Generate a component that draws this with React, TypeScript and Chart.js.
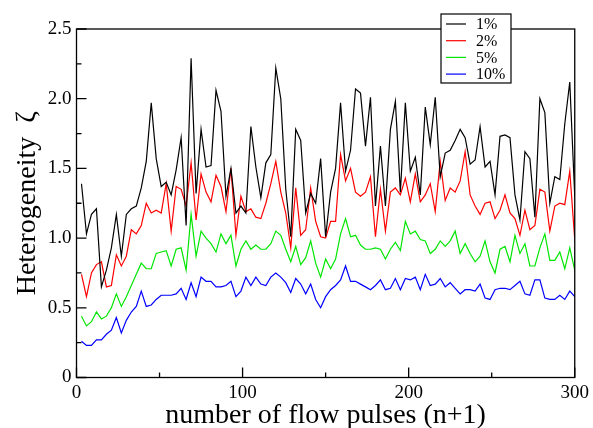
import React, { useEffect, useRef } from "react";
import { Chart, registerables } from "chart.js";

Chart.register(...registerables);

// Pulse count (n+1) at which heterogeneity was sampled: every 3rd pulse.
const PULSES: number[] = Array.from({ length: 100 }, (_, i) => 3 * (i + 1));

const SERIES_LABELS = ["1%", "2%", "5%", "10%"];
const SERIES_COLORS = ["#000000", "#ff0000", "#00e600", "#0000ff"];

const ZETA_1 = [
  1.39, 1.03, 1.17, 1.21, 0.65, 0.77, 0.93, 1.17, 0.87, 1.17,
  1.21, 1.23, 1.36, 1.55, 1.97, 1.57, 1.37, 1.40, 1.31, 1.49,
  1.72, 1.09, 2.29, 1.32, 1.78, 1.51, 1.52, 2.06, 1.91, 1.30,
  1.50, 1.18, 1.23, 1.18, 1.80, 1.51, 1.29, 1.54, 1.60, 2.22,
  2.00, 1.35, 1.01, 1.78, 1.70, 1.18, 1.32, 1.25, 1.57, 1.01,
  1.33, 1.50, 1.97, 1.48, 1.63, 2.07, 2.04, 1.66, 2.01, 1.23,
  1.66, 1.23, 1.78, 1.98, 1.33, 1.97, 1.48, 1.58, 1.31, 1.94,
  1.67, 2.01, 1.44, 1.61, 1.63, 1.70, 1.78, 1.72, 1.53, 1.56,
  1.80, 1.51, 1.55, 1.31, 1.73, 1.74, 1.72, 1.31, 1.13, 1.62,
  1.57, 1.15, 2.00, 1.90, 1.25, 1.44, 1.42, 1.82, 2.12, 1.30,
];

const ZETA_2 = [
  0.74, 0.58, 0.75, 0.81, 0.83, 0.65, 0.66, 0.88, 0.80, 0.87,
  1.06, 1.03, 1.09, 1.25, 1.18, 1.20, 1.18, 1.39, 1.05, 1.37,
  1.35, 1.23, 1.54, 1.13, 1.46, 1.33, 1.26, 1.45, 1.37, 1.19,
  1.50, 1.02, 1.30, 1.19, 1.21, 1.15, 1.14, 1.25, 1.39, 1.55,
  1.33, 1.18, 0.93, 1.36, 1.02, 1.06, 1.36, 1.12, 1.01, 1.00,
  1.12, 1.12, 1.60, 1.41, 1.50, 1.33, 1.30, 1.33, 1.44, 1.01,
  1.35, 1.05, 1.33, 1.36, 1.31, 1.43, 1.26, 1.46, 1.26, 1.31,
  1.39, 1.19, 1.55, 1.27, 1.36, 1.33, 1.41, 1.62, 1.31, 1.23,
  1.17, 1.25, 1.26, 1.14, 1.20, 1.31, 1.18, 1.14, 1.02, 1.20,
  1.06, 1.09, 1.35, 1.33, 1.05, 1.23, 1.25, 1.24, 1.48, 0.99,
];

const ZETA_5 = [
  0.44, 0.37, 0.40, 0.47, 0.42, 0.44, 0.50, 0.60, 0.51, 0.58,
  0.66, 0.74, 0.82, 0.78, 0.78, 0.89, 0.90, 0.91, 0.80, 0.92,
  0.93, 0.77, 1.17, 0.87, 1.05, 1.00, 0.96, 0.90, 1.03, 0.96,
  1.02, 0.80, 0.92, 0.98, 0.92, 0.95, 0.92, 0.92, 0.96, 1.05,
  1.02, 0.92, 0.83, 0.94, 0.81, 0.86, 0.98, 0.82, 0.72, 0.85,
  0.78, 0.85, 1.03, 1.14, 1.01, 1.02, 0.95, 0.92, 0.92, 0.93,
  0.92, 0.85, 0.92, 0.97, 0.91, 1.12, 1.03, 1.05, 0.99, 0.98,
  0.89, 0.92, 0.98, 0.94, 0.98, 1.05, 0.89, 0.96, 0.89, 0.83,
  0.87, 0.98, 0.83, 0.75, 0.92, 0.94, 0.83, 1.02, 0.89, 0.96,
  0.80, 0.80, 0.93, 1.03, 0.84, 0.84, 0.90, 0.78, 0.93, 0.77,
];

const ZETA_10 = [
  0.26, 0.23, 0.23, 0.27, 0.27, 0.31, 0.34, 0.43, 0.32, 0.41,
  0.47, 0.51, 0.62, 0.51, 0.52, 0.56, 0.59, 0.59, 0.59, 0.60,
  0.64, 0.56, 0.68, 0.58, 0.72, 0.69, 0.69, 0.65, 0.65, 0.66,
  0.69, 0.58, 0.62, 0.72, 0.66, 0.72, 0.67, 0.66, 0.72, 0.75,
  0.72, 0.68, 0.61, 0.71, 0.67, 0.60, 0.67, 0.56, 0.50, 0.58,
  0.63, 0.66, 0.70, 0.80, 0.69, 0.69, 0.67, 0.65, 0.63, 0.66,
  0.70, 0.63, 0.64, 0.71, 0.63, 0.71, 0.70, 0.72, 0.63, 0.74,
  0.66, 0.67, 0.71, 0.65, 0.68, 0.64, 0.60, 0.63, 0.63, 0.62,
  0.67, 0.57, 0.56, 0.63, 0.64, 0.64, 0.63, 0.66, 0.69, 0.60,
  0.59, 0.70, 0.70, 0.57, 0.56, 0.56, 0.59, 0.56, 0.62, 0.58,
];

const SERIES_VALUES = [ZETA_1, ZETA_2, ZETA_5, ZETA_10];

const X_MAJOR_TICKS = [0, 100, 200, 300];
const X_MINOR_TICKS = [50, 150, 250];
const Y_MAJOR_TICKS = [0, 0.5, 1, 1.5, 2, 2.5];
const Y_MINOR_TICKS = [0.25, 0.75, 1.25, 1.75, 2.25];

const SERIF = "'Liberation Serif', 'Times New Roman', serif";

// Box frame, inward tick marks and the boxed legend in the upper right.
const framePlugin = {
  id: "gracePlotFrame",
  afterDraw(chart: any) {
    const { ctx, chartArea: a, scales } = chart;
    const xs = scales.x;
    const ys = scales.y;
    ctx.save();
    ctx.strokeStyle = "#000";
    ctx.lineWidth = 1.3;
    ctx.strokeRect(a.left, a.top, a.right - a.left, a.bottom - a.top);

    ctx.beginPath();
    X_MAJOR_TICKS.forEach((v) => {
      const p = xs.getPixelForValue(v);
      ctx.moveTo(p, a.bottom);
      ctx.lineTo(p, a.bottom - 10);
    });
    X_MINOR_TICKS.forEach((v) => {
      const p = xs.getPixelForValue(v);
      ctx.moveTo(p, a.bottom);
      ctx.lineTo(p, a.bottom - 5);
    });
    Y_MAJOR_TICKS.forEach((v) => {
      const p = ys.getPixelForValue(v);
      ctx.moveTo(a.left, p);
      ctx.lineTo(a.left + 10, p);
    });
    Y_MINOR_TICKS.forEach((v) => {
      const p = ys.getPixelForValue(v);
      ctx.moveTo(a.left, p);
      ctx.lineTo(a.left + 5, p);
    });
    ctx.stroke();

    // legend
    const lx = 441;
    const ly = 14;
    const lw = 70;
    const lh = 69;
    ctx.fillStyle = "#fff";
    ctx.fillRect(lx, ly, lw, lh);
    ctx.lineWidth = 1.2;
    ctx.strokeStyle = "#000";
    ctx.strokeRect(lx, ly, lw, lh);
    ctx.font = `16px ${SERIF}`;
    ctx.textBaseline = "middle";
    ctx.textAlign = "left";
    chart.data.datasets.forEach((ds: any, i: number) => {
      const yy = ly + 10 + i * 16.7;
      ctx.beginPath();
      ctx.strokeStyle = ds.borderColor;
      ctx.lineWidth = 1.2;
      ctx.moveTo(lx + 5, yy);
      ctx.lineTo(lx + 25, yy);
      ctx.stroke();
      ctx.fillStyle = "#000";
      ctx.fillText(ds.label, lx + 35, yy + 1);
    });
    ctx.restore();
  },
};

export default function App() {
  const canvasRef = useRef<HTMLCanvasElement | null>(null);

  useEffect(() => {
    const canvas = canvasRef.current;
    if (!canvas) return;
    const chart = new Chart(canvas, {
      type: "line",
      data: {
        datasets: SERIES_VALUES.map((vals, k) => ({
          label: SERIES_LABELS[k],
          data: vals.map((v, i) => ({ x: PULSES[i], y: v })),
          borderColor: SERIES_COLORS[k],
          borderWidth: 1.2,
          pointRadius: 0,
          tension: 0,
          fill: false,
        })),
      },
      options: {
        animation: false,
        responsive: false,
        events: [],
        layout: { padding: { top: 29, right: 18, left: 0, bottom: 0 } },
        plugins: {
          legend: { display: false },
          tooltip: { enabled: false },
        },
        scales: {
          x: {
            type: "linear",
            min: 0,
            max: 300,
            grid: { display: false, drawTicks: false },
            border: { display: false },
            ticks: {
              stepSize: 100,
              autoSkip: false,
              maxRotation: 0,
              padding: 4,
              color: "#000",
              font: { family: SERIF, size: 19 },
            },
            title: {
              display: true,
              text: "number of flow pulses (n+1)",
              color: "#000",
              font: { family: SERIF, size: 28, lineHeight: 0.85 },
              padding: { top: 0, bottom: 0 },
            },
            afterFit(scale: any) {
              scale.height = 50.5;
            },
          },
          y: {
            type: "linear",
            min: 0,
            max: 2.5,
            grid: { display: false, drawTicks: false },
            border: { display: false },
            ticks: {
              stepSize: 0.5,
              autoSkip: false,
              padding: 5,
              color: "#000",
              font: { family: SERIF, size: 19 },
            },
            title: {
              display: true,
              text: "Heterogeneity  ζ",
              color: "#000",
              font: { family: SERIF, size: 28, lineHeight: 1 },
              padding: { top: 13.5, bottom: 0 },
            },
            afterFit(scale: any) {
              scale.width = 76.5;
            },
          },
        },
      },
      plugins: [framePlugin],
    });
    return () => chart.destroy();
  }, []);

  return (
    <div
      style={{
        position: "fixed",
        left: 0,
        top: 0,
        width: 593,
        height: 428,
        background: "#fff",
      }}
    >
      <canvas ref={canvasRef} width={593} height={428} style={{ display: "block" }} />
    </div>
  );
}
